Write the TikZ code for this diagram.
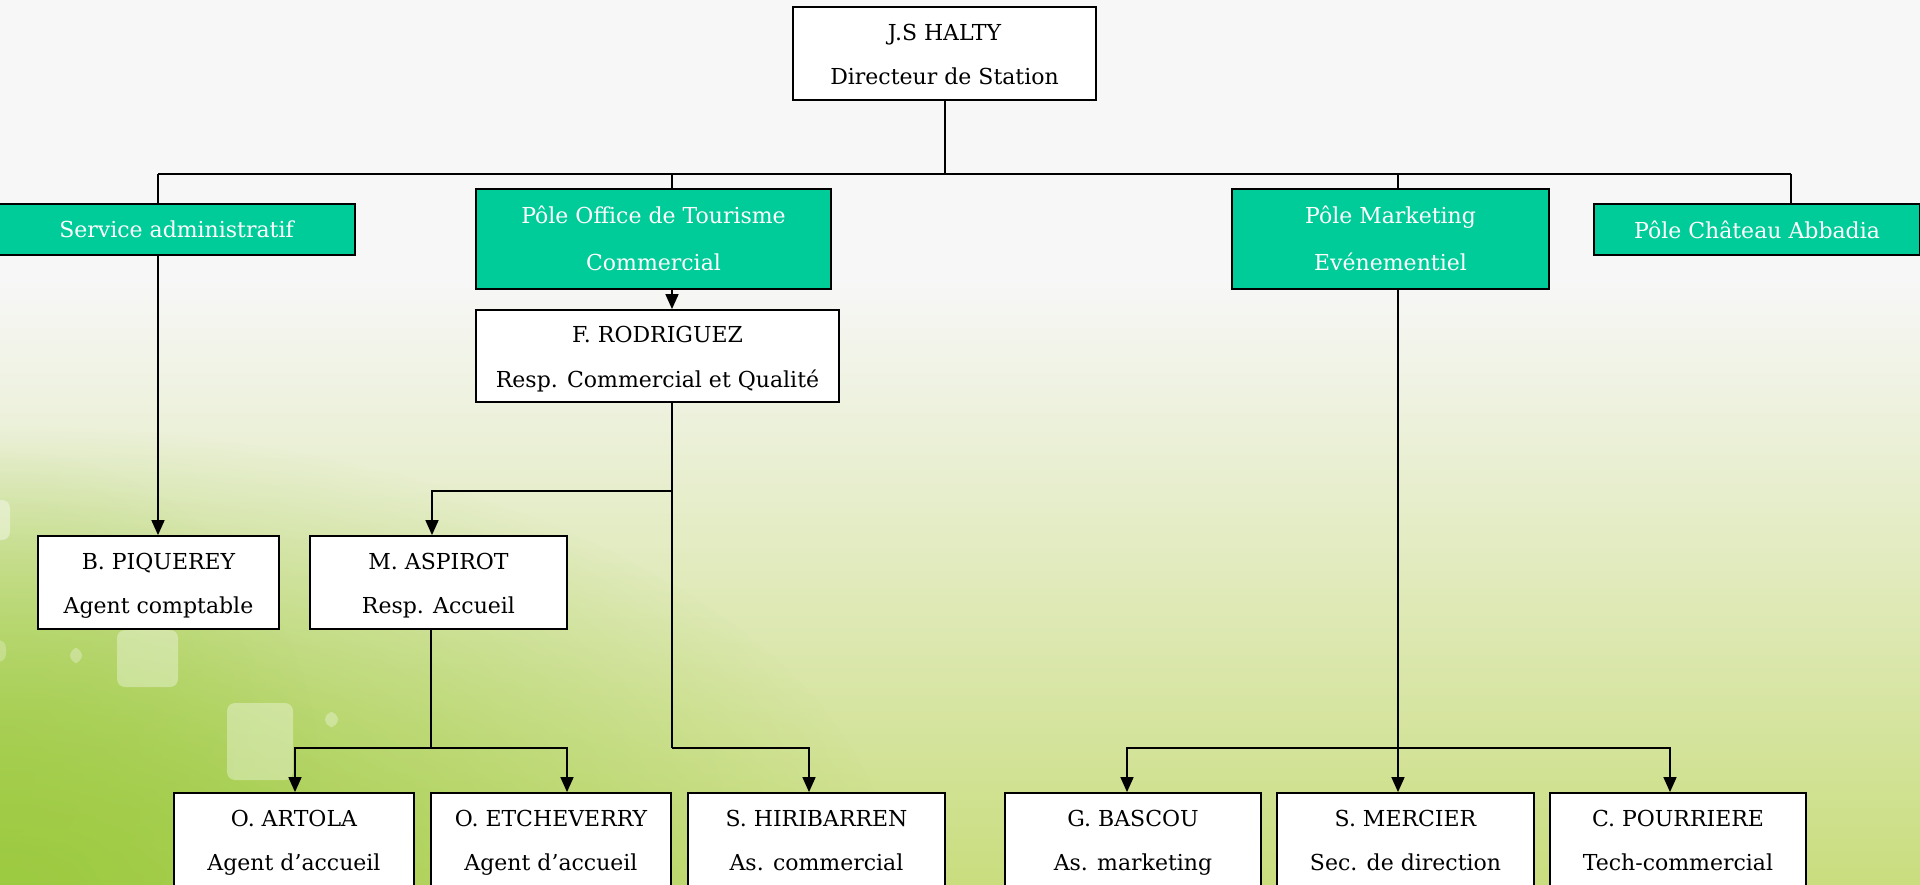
\documentclass[tikz,border=0pt]{standalone}
\usepackage{fontspec}
\setmainfont{DejaVu Serif}
\usetikzlibrary{arrows.meta,fadings}
\definecolor{polegreen}{HTML}{00CC99}
\definecolor{bgtop}{HTML}{F7F7F7}
\definecolor{bgmid}{HTML}{EBEFDC}
\definecolor{bgbot}{HTML}{C9DD7E}
\definecolor{bgleft}{HTML}{9CCA40}
\tikzfading[name=cornerfade, inner color=transparent!0, outer color=transparent!100]
\newcommand\twoline[2]{\rule{0pt}{31pt}#1\\#2\rule[-13pt]{0pt}{13pt}}
\newcommand\poleline[2]{\rule{0pt}{30pt}#1\\#2\rule[-14pt]{0pt}{14pt}}
\tikzset{
  person/.style={draw=black, line width=1.8pt, fill=white, minimum height=93pt,
    inner sep=0pt, align=center, font=\fontsize{22}{44}\selectfont},
  pole/.style={draw=black, line width=1.8pt, fill=polegreen, text=white,
    inner sep=0pt, align=center, font=\fontsize{22}{47}\selectfont},
  link/.style={line width=1.6pt, draw=black},
  arr/.style={link, -{Triangle[length=15pt,width=13pt]}},
  deco/.style={fill=white, opacity=0.35, rounded corners=8pt}
}
\begin{document}
\begin{tikzpicture}[x=1pt, y=-1pt]
\useasboundingbox (0,0) rectangle (1920,885);
\clip (0,0) rectangle (1920,885);
% background
\fill[bgtop] (0,0) rectangle (1920,885);
\shade[top color=bgtop, middle color=bgmid, bottom color=bgbot] (0,280) rectangle (1920,885);
\fill[bgleft, path fading=cornerfade] (0,885) ellipse [x radius=900pt, y radius=460pt];
\fill[bgleft, opacity=0.45, path fading=cornerfade] (0,780) ellipse [x radius=320pt, y radius=330pt];
% decorative squares
\fill[deco] (117,630) rectangle (178,687);
\fill[deco] (227,703) rectangle (293,780);
\fill[deco, opacity=0.3] (70,648) rectangle (82,663);
\fill[deco, opacity=0.3] (325,712) rectangle (338,727);
\fill[deco, opacity=0.4] (-10,500) rectangle (10,540);
\fill[deco, opacity=0.25] (-10,640) rectangle (6,662);

% nodes
\node[person, minimum width=303pt] (dir) at (944.5,53.5) {\twoline{J.S HALTY}{Directeur de Station}};
\node[pole, minimum width=357pt, minimum height=51pt] (sa) at (176.5,229.5) {Service administratif};
\node[pole, minimum width=355pt, minimum height=100pt] (pot) at (653.5,239) {\poleline{Pôle Office de Tourisme}{Commercial}};
\node[pole, minimum width=317pt, minimum height=100pt] (pme) at (1390.5,239) {\poleline{Pôle Marketing}{Evénementiel}};
\node[pole, minimum width=326pt, minimum height=51pt] (pca) at (1757,229.5) {Pôle Château Abbadia};
\node[person, minimum width=363pt, minimum height=92pt] (rod) at (657.5,356) {\twoline{F. RODRIGUEZ}{Resp. Commercial et Qualité}};
\node[person, minimum width=241pt] (piq) at (158.5,582.5) {\twoline{B. PIQUEREY}{Agent comptable}};
\node[person, minimum width=257pt] (asp) at (438.5,582.5) {\twoline{M. ASPIROT}{Resp. Accueil}};
\node[person, minimum width=240pt] (art) at (294,839.5) {\twoline{O. ARTOLA}{Agent d’accueil}};
\node[person, minimum width=240pt] (etc) at (551,839.5) {\twoline{O. ETCHEVERRY}{Agent d’accueil}};
\node[person, minimum width=257pt] (hir) at (816.5,839.5) {\twoline{S. HIRIBARREN}{As. commercial}};
\node[person, minimum width=256pt] (bas) at (1133,839.5) {\twoline{G. BASCOU}{As. marketing}};
\node[person, minimum width=257pt] (mer) at (1405.5,839.5) {\twoline{S. MERCIER}{Sec. de direction}};
\node[person, minimum width=256pt] (pou) at (1678,839.5) {\twoline{C. POURRIERE}{Tech-commercial}};

% bus coordinates
\coordinate (bT) at (945,174);
\coordinate (bL) at (158,174);
\coordinate (bO) at (672,174);
\coordinate (bM) at (1398,174);
\coordinate (bR) at (1791,174);
\coordinate (rodJ) at (672,491);
\coordinate (rodB) at (672,748);
\coordinate (aspB) at (431,748);
\coordinate (mkB) at (1398,748);

% connectors
\draw[link] (bT |- dir.south) -- (bT);
\draw[link] (bL) -- (bR);
\draw[link] (bL) -- (bL |- sa.north);
\draw[link] (bO) -- (bO |- pot.north);
\draw[link] (bM) -- (bM |- pme.north);
\draw[link] (bR) -- (bR |- pca.north);
\draw[arr] (bL |- sa.south) -- (bL |- piq.north);
\draw[arr] (bO |- pot.south) -- (bO |- rod.north);
\draw[link] (bO |- rod.south) -- (rodB);
\draw[arr] (rodJ) -| ([xshift=-6.5pt]asp.north);
\draw[arr] (rodB) -| ([xshift=-7.5pt]hir.north);
\draw[link] (aspB |- asp.south) -- (aspB);
\draw[arr] (aspB) -| ([xshift=1pt]art.north);
\draw[arr] (aspB) -| ([xshift=16pt]etc.north);
\draw[arr] (bM |- pme.south) -- (bM |- mer.north);
\draw[arr] (mkB) -| ([xshift=-6pt]bas.north);
\draw[arr] (mkB) -| ([xshift=-8pt]pou.north);
\end{tikzpicture}
\end{document}
